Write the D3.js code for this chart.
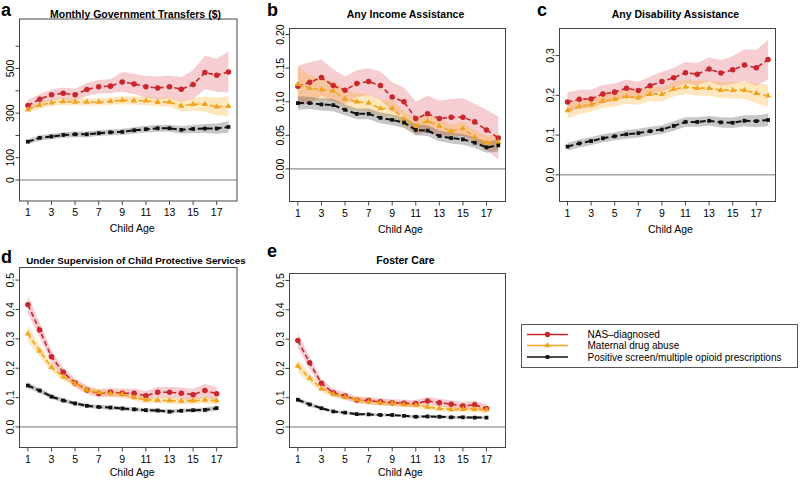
<!DOCTYPE html>
<html>
<head>
<meta charset="utf-8">
<script src="https://cdn.jsdelivr.net/npm/d3@7"></script>
<style>
  body { margin: 0; background: #fff; }
  svg { font-family: "Liberation Sans", Arial, Helvetica, sans-serif; }
</style>
</head>
<body>
<div id="chart"></div>
<script>
// ages on the x axis
const ages18 = d3.range(1, 19);
const ages17 = d3.range(1, 18);

const seriesNames = ["NAS\u2013diagnosed", "Maternal drug abuse", "Positive screen/multiple opioid prescriptions"];

// a: monthly government transfers ($)
const transfersNas   = [334, 362, 382, 389, 382, 406, 418, 421, 440, 431, 418, 413, 418, 407, 428, 482, 470, 484];
const transfersNasCi = [26, 23, 24, 26, 27, 29, 30, 32, 44, 45, 48, 51, 51, 55, 64, 75, 74, 92];
const transfersMda   = [316, 335, 347, 352, 350, 350, 350, 353, 358, 356, 355, 349, 350, 332, 340, 340, 329, 331];
const transfersMdaCi = [14, 15, 15, 16, 16, 16, 17, 17, 18, 18, 19, 19, 20, 25, 28, 35, 40, 45];
const transfersPos   = [172, 189, 195, 202, 205, 205, 210, 214, 216, 223, 228, 232, 232, 225, 229, 231, 231, 238];
const transfersPosCi = [11, 12, 12, 12, 13, 13, 13, 13, 14, 14, 15, 15, 16, 17, 18, 20, 23, 26];

// b: any income assistance
const incomeNas   = [0.123, 0.129, 0.136, 0.124, 0.117, 0.127, 0.130, 0.124, 0.107, 0.100, 0.075, 0.082, 0.075, 0.077, 0.077, 0.070, 0.058, 0.046];
const incomeNasCi = [0.030, 0.030, 0.027, 0.024, 0.021, 0.020, 0.020, 0.021, 0.022, 0.021, 0.025, 0.027, 0.027, 0.027, 0.028, 0.027, 0.030, 0.032];
const incomeMda   = [0.126, 0.120, 0.118, 0.116, 0.104, 0.100, 0.098, 0.090, 0.090, 0.074, 0.064, 0.071, 0.064, 0.056, 0.060, 0.047, 0.039, 0.040];
const incomeMdaCi = [0.026, 0.020, 0.016, 0.015, 0.014, 0.013, 0.013, 0.013, 0.012, 0.012, 0.011, 0.011, 0.011, 0.010, 0.010, 0.010, 0.010, 0.012];
const incomePos   = [0.098, 0.098, 0.096, 0.095, 0.088, 0.082, 0.082, 0.076, 0.073, 0.069, 0.058, 0.057, 0.049, 0.046, 0.044, 0.039, 0.032, 0.035];
const incomePosCi = [0.010, 0.009, 0.009, 0.009, 0.008, 0.008, 0.008, 0.008, 0.008, 0.008, 0.008, 0.008, 0.008, 0.008, 0.008, 0.008, 0.008, 0.009];

// c: any disability assistance
const disabNas   = [0.183, 0.190, 0.191, 0.203, 0.208, 0.218, 0.212, 0.224, 0.235, 0.244, 0.257, 0.253, 0.266, 0.256, 0.264, 0.276, 0.269, 0.290];
const disabNasCi = [0.025, 0.024, 0.023, 0.023, 0.022, 0.022, 0.022, 0.023, 0.024, 0.025, 0.027, 0.028, 0.030, 0.032, 0.035, 0.040, 0.045, 0.050];
const disabMda   = [0.162, 0.172, 0.177, 0.186, 0.190, 0.197, 0.194, 0.203, 0.203, 0.215, 0.221, 0.218, 0.218, 0.213, 0.213, 0.213, 0.205, 0.199];
const disabMdaCi = [0.020, 0.019, 0.018, 0.018, 0.018, 0.018, 0.018, 0.018, 0.018, 0.018, 0.018, 0.019, 0.019, 0.020, 0.021, 0.022, 0.025, 0.028];
const disabPos   = [0.071, 0.079, 0.085, 0.092, 0.097, 0.102, 0.105, 0.110, 0.114, 0.123, 0.133, 0.133, 0.136, 0.132, 0.131, 0.136, 0.135, 0.138];
const disabPosCi = [0.010, 0.010, 0.010, 0.010, 0.010, 0.011, 0.011, 0.011, 0.011, 0.012, 0.012, 0.012, 0.012, 0.013, 0.013, 0.014, 0.015, 0.016];

// d: under supervision of child protective services
const cpsNas   = [0.416, 0.330, 0.239, 0.186, 0.150, 0.126, 0.114, 0.118, 0.115, 0.115, 0.106, 0.118, 0.118, 0.115, 0.110, 0.124, 0.113];
const cpsNasCi = [0.030, 0.025, 0.020, 0.016, 0.015, 0.014, 0.014, 0.015, 0.015, 0.016, 0.016, 0.018, 0.019, 0.019, 0.020, 0.022, 0.024];
const cpsMda   = [0.317, 0.259, 0.203, 0.171, 0.148, 0.126, 0.117, 0.114, 0.112, 0.100, 0.092, 0.091, 0.090, 0.088, 0.089, 0.092, 0.089];
const cpsMdaCi = [0.028, 0.020, 0.015, 0.012, 0.011, 0.010, 0.010, 0.010, 0.010, 0.010, 0.010, 0.010, 0.010, 0.010, 0.010, 0.011, 0.012];
const cpsPos   = [0.141, 0.124, 0.103, 0.090, 0.080, 0.072, 0.068, 0.066, 0.063, 0.060, 0.057, 0.056, 0.052, 0.055, 0.057, 0.058, 0.064];
const cpsPosCi = [0.010, 0.009, 0.008, 0.008, 0.007, 0.007, 0.007, 0.007, 0.007, 0.007, 0.007, 0.007, 0.007, 0.007, 0.007, 0.008, 0.009];

// e: foster care
const fosterNas   = [0.295, 0.219, 0.149, 0.117, 0.106, 0.092, 0.090, 0.086, 0.083, 0.081, 0.080, 0.089, 0.083, 0.078, 0.072, 0.076, 0.063];
const fosterNasCi = [0.025, 0.020, 0.015, 0.013, 0.012, 0.012, 0.012, 0.012, 0.012, 0.012, 0.012, 0.013, 0.013, 0.013, 0.013, 0.014, 0.015];
const fosterMda   = [0.208, 0.167, 0.131, 0.113, 0.102, 0.093, 0.086, 0.083, 0.081, 0.077, 0.075, 0.068, 0.063, 0.060, 0.061, 0.061, 0.060];
const fosterMdaCi = [0.022, 0.016, 0.012, 0.010, 0.009, 0.009, 0.009, 0.009, 0.009, 0.009, 0.009, 0.009, 0.009, 0.009, 0.009, 0.010, 0.011];
const fosterPos   = [0.093, 0.077, 0.064, 0.053, 0.049, 0.044, 0.043, 0.041, 0.041, 0.038, 0.035, 0.036, 0.035, 0.033, 0.033, 0.032, 0.032];
const fosterPosCi = [0.008, 0.007, 0.006, 0.005, 0.005, 0.005, 0.005, 0.005, 0.005, 0.005, 0.005, 0.005, 0.005, 0.005, 0.005, 0.005, 0.005];

// tick values / labels
const xTicks = [1, 3, 5, 7, 9, 11, 13, 15, 17];
const transfersTicks = [0, 100, 200, 300, 400, 500, 600];
const transfersLabels = ["0", "100", "", "300", "", "500", ""];
const incomeTicks = [0, 0.05, 0.10, 0.15, 0.20];
const disabTicks = [0, 0.1, 0.2, 0.3];
const cpsTicks = [0, 0.1, 0.2, 0.3, 0.4, 0.5];

const colors = ["#c9262d", "#f0a31c", "#111111"];
const bandColors = ["rgba(222,70,80,0.27)", "rgba(252,175,40,0.30)", "rgba(70,70,70,0.30)"];

const width = 800, height = 481;
const svg = d3.select("#chart").append("svg")
    .attr("width", width)
    .attr("height", height);

// panel layout: plot box in pixels plus axis domains
const panels = [
    {letter: "a", title: "Monthly Government Transfers ($)", box: [19.5, 19, 237, 201], xDom: [0.29, 18.72], yDom: [-94, 722],
     ages: ages18, yTicks: transfersTicks, yLabels: transfersLabels, fmt: null, titleX: 135.5, titleY: 17.5, titleSize: 10.5, letterPos: [1, 16],
     series: [[transfersNas, transfersNasCi], [transfersMda, transfersMdaCi], [transfersPos, transfersPosCi]]},
    {letter: "b", title: "Any Income Assistance", box: [289.5, 28.5, 505.5, 201.5], xDom: [0.29, 18.61], yDom: [-0.0485, 0.209],
     ages: ages18, yTicks: incomeTicks, fmt: d3.format(".2f"), titleX: 405.5, titleY: 17.5, titleSize: 10.5, letterPos: [267, 16],
     series: [[incomeNas, incomeNasCi], [incomeMda, incomeMdaCi], [incomePos, incomePosCi]]},
    {letter: "c", title: "Any Disability Assistance", box: [559.5, 28.5, 775.5, 201.5], xDom: [0.32, 18.63], yDom: [-0.067, 0.368],
     ages: ages18, yTicks: disabTicks, fmt: d3.format(".1f"), titleX: 675.5, titleY: 17.5, titleSize: 10.5, letterPos: [537, 16],
     series: [[disabNas, disabNasCi], [disabMda, disabMdaCi], [disabPos, disabPosCi]]},
    {letter: "d", title: "Under Supervision of Child Protective Services", box: [19.5, 267.5, 237, 447.5], xDom: [0.29, 18.72], yDom: [-0.07, 0.543],
     ages: ages17, yTicks: cpsTicks, fmt: d3.format(".1f"), titleX: 136, titleY: 263.5, titleSize: 9.8, letterPos: [1, 263],
     series: [[cpsNas, cpsNasCi], [cpsMda, cpsMdaCi], [cpsPos, cpsPosCi]]},
    {letter: "e", title: "Foster Care", box: [289.5, 273.5, 505.5, 447.5], xDom: [0.29, 18.61], yDom: [-0.07, 0.524],
     ages: ages17, yTicks: cpsTicks, fmt: d3.format(".1f"), titleX: 405.5, titleY: 263.5, titleSize: 10.5, letterPos: [267, 257],
     series: [[fosterNas, fosterNasCi], [fosterMda, fosterMdaCi], [fosterPos, fosterPosCi]]}
];

panels.forEach(function(p) {
    const [x0, y0, x1, y1] = p.box;
    const x = d3.scaleLinear().domain(p.xDom).range([x0, x1]);
    const y = d3.scaleLinear().domain(p.yDom).range([y1, y0]);
    const g = svg.append("g");

    // confidence bands first
    p.series.forEach(function(s, i) {
        const rows = p.ages.map((a, k) => ({a: a, m: s[0][k], c: s[1][k]}));
        g.append("path")
            .datum(rows)
            .attr("fill", bandColors[i])
            .attr("d", d3.area()
                .x(d => x(d.a))
                .y0(d => y(d.m - d.c))
                .y1(d => y(d.m + d.c)));
    });

    // zero line
    g.append("line")
        .attr("x1", x0).attr("x2", x1)
        .attr("y1", y(0)).attr("y2", y(0))
        .attr("stroke", "#777").attr("stroke-width", 1);

    // dashed lines with markers
    p.series.forEach(function(s, i) {
        const rows = p.ages.map((a, k) => ({a: a, m: s[0][k]}));
        g.append("path")
            .datum(rows)
            .attr("fill", "none")
            .attr("stroke", colors[i])
            .attr("stroke-width", i === 2 ? 2 : 1.6)
            .attr("stroke-dasharray", i === 2 ? "6,3" : "5,3")
            .attr("d", d3.line().x(d => x(d.a)).y(d => y(d.m)));
        const sym = [d3.symbolCircle, d3.symbolTriangle, d3.symbolSquare][i];
        const size = [24, 16, 14][i];
        g.selectAll(null)
            .data(rows)
            .enter().append("path")
            .attr("transform", d => "translate(" + x(d.a) + "," + y(d.m) + ")")
            .attr("d", d3.symbol().type(sym).size(size))
            .attr("fill", colors[i]);
    });

    // frame
    g.append("rect")
        .attr("x", x0).attr("y", y0)
        .attr("width", x1 - x0).attr("height", y1 - y0)
        .attr("fill", "none")
        .attr("stroke", "#444").attr("stroke-width", 1);

    // x axis
    const xa = g.append("g");
    xa.selectAll("line").data(xTicks).enter().append("line")
        .attr("x1", d => x(d)).attr("x2", d => x(d))
        .attr("y1", y1).attr("y2", y1 + 4)
        .attr("stroke", "#444");
    xa.selectAll("text").data(xTicks).enter().append("text")
        .attr("x", d => x(d))
        .attr("y", y1 + 15)
        .attr("text-anchor", "middle")
        .attr("font-size", 10.5)
        .text(d => d);
    g.append("text")
        .attr("x", (x0 + x1) / 2 + (p.letter === "a" || p.letter === "d" ? 4 : 3))
        .attr("y", y1 + (p.letter === "d" || p.letter === "e" ? 28.5 : 31))
        .attr("text-anchor", "middle")
        .attr("font-size", 10.5)
        .text("Child Age");

    // y axis
    const ya = g.append("g");
    ya.selectAll("line").data(p.yTicks).enter().append("line")
        .attr("x1", x0).attr("x2", x0 - 4)
        .attr("y1", d => y(d)).attr("y2", d => y(d))
        .attr("stroke", "#444");
    ya.selectAll("text").data(p.yTicks).enter().append("text")
        .attr("transform", d => "translate(" + (x0 - 9.5) + "," + y(d) + ") rotate(-90)")
        .attr("dy", "0.35em")
        .attr("text-anchor", "middle")
        .attr("font-size", 10.5)
        .text((d, k) => p.yLabels ? p.yLabels[k] : p.fmt(d));

    // title and panel letter
    g.append("text")
        .attr("x", p.titleX).attr("y", p.titleY)
        .attr("text-anchor", "middle")
        .attr("font-size", p.titleSize)
        .attr("font-weight", "bold")
        .text(p.title);
    g.append("text")
        .attr("x", p.letterPos[0]).attr("y", p.letterPos[1])
        .attr("font-size", 18)
        .attr("font-weight", "bold")
        .text(p.letter);
});

// legend
const legend = svg.append("g");
legend.append("rect")
    .attr("x", 521.5).attr("y", 324.5)
    .attr("width", 276).attr("height", 43)
    .attr("fill", "#fff")
    .attr("stroke", "#555").attr("stroke-width", 1);
const legRows = [334.5, 345.5, 357];
seriesNames.forEach(function(name, i) {
    legend.append("line")
        .attr("x1", 527).attr("x2", 568)
        .attr("y1", legRows[i]).attr("y2", legRows[i])
        .attr("stroke", colors[i]).attr("stroke-width", 1.3);
    legend.append("path")
        .attr("transform", "translate(547.5," + legRows[i] + ")")
        .attr("d", d3.symbol().type([d3.symbolCircle, d3.symbolTriangle, d3.symbolSquare][i]).size([22, 16, 14][i]))
        .attr("fill", colors[i]);
    legend.append("text")
        .attr("x", 587.5).attr("y", legRows[i])
        .attr("dy", "0.35em")
        .attr("font-size", 10)
        .text(name);
});
</script>
</body>
</html>
